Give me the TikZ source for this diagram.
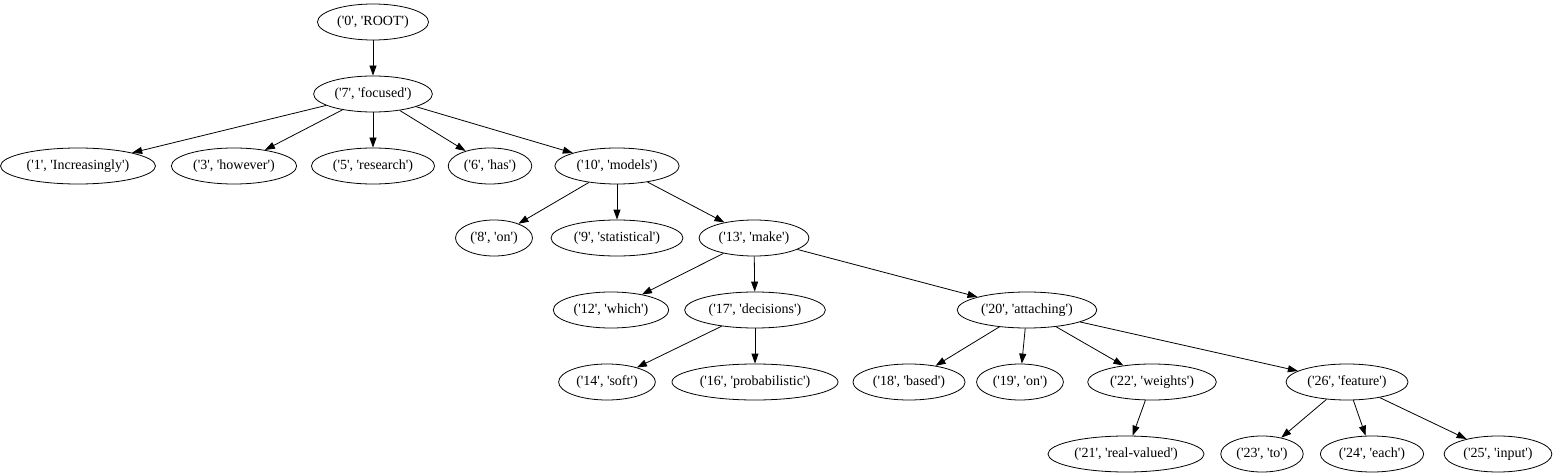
\documentclass[tikz,border=0pt]{standalone}
\usepackage{fontspec}
\setmainfont{Liberation Serif}[Ligatures=TeXOff]
\usetikzlibrary{arrows.meta,shapes.geometric}

\begin{document}
\begin{tikzpicture}[x=1pt, y={(0pt,-1pt)},
  tok/.style={draw,ellipse,line width=0.8pt,inner xsep=3.5pt,inner ysep=0pt,minimum height=36pt,font=\fontsize{14}{16}\selectfont},
  dep/.style={-{Triangle[length=10pt,width=7pt]},line width=0.8pt},
]
  \useasboundingbox (0,0) rectangle (1556,476);

  % root and head verb
  \node[tok] (t0) at (373,22) {('0', 'ROOT')};
  \node[tok] (t7) at (373,94) {('7', 'focused')};

  % dependents of focused
  \node[tok] (t1) at (78,166) {('1', 'Increasingly')};
  \node[tok] (t3) at (234,166) {('3', 'however')};
  \node[tok] (t5) at (373,166) {('5', 'research')};
  \node[tok] (t6) at (490,166) {('6', 'has')};
  \node[tok] (t10) at (617,166) {('10', 'models')};

  % dependents of models
  \node[tok] (t8) at (494,238) {('8', 'on')};
  \node[tok] (t9) at (617,238) {('9', 'statistical')};
  \node[tok] (t13) at (754,238) {('13', 'make')};

  % dependents of make
  \node[tok] (t12) at (611,310) {('12', 'which')};
  \node[tok] (t17) at (755,310) {('17', 'decisions')};
  \node[tok] (t20) at (1027,310) {('20', 'attaching')};

  % next level
  \node[tok] (t14) at (607,382) {('14', 'soft')};
  \node[tok] (t16) at (755,382) {('16', 'probabilistic')};
  \node[tok] (t18) at (909,382) {('18', 'based')};
  \node[tok] (t19) at (1020,382) {('19', 'on')};
  \node[tok] (t22) at (1152,382) {('22', 'weights')};
  \node[tok] (t26) at (1347,382) {('26', 'feature')};

  % leaves
  \node[tok] (t21) at (1126,454) {('21', 'real-valued')};
  \node[tok] (t23) at (1262,454) {('23', 'to')};
  \node[tok] (t24) at (1372,454) {('24', 'each')};
  \node[tok] (t25) at (1498,454) {('25', 'input')};

  % arcs
  \draw[dep] (t0) -- (t7);
  \draw[dep] (t7) -- (t1);
  \draw[dep] (t7) -- (t3);
  \draw[dep] (t7) -- (t5);
  \draw[dep] (t7) -- (t6);
  \draw[dep] (t7) -- (t10);
  \draw[dep] (t10) -- (t8);
  \draw[dep] (t10) -- (t9);
  \draw[dep] (t10) -- (t13);
  \draw[dep] (t13) -- (t12);
  \draw[dep] (t13) -- (t17);
  \draw[dep] (t13) -- (t20);
  \draw[dep] (t17) -- (t14);
  \draw[dep] (t17) -- (t16);
  \draw[dep] (t20) -- (t18);
  \draw[dep] (t20) -- (t19);
  \draw[dep] (t20) -- (t22);
  \draw[dep] (t20) -- (t26);
  \draw[dep] (t22) -- (t21);
  \draw[dep] (t26) -- (t23);
  \draw[dep] (t26) -- (t24);
  \draw[dep] (t26) -- (t25);
\end{tikzpicture}
\end{document}
